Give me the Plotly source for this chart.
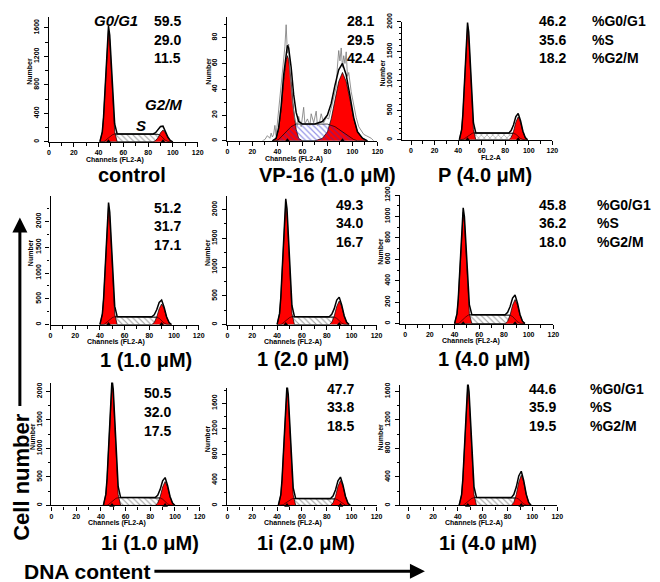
import plotly.graph_objects as go

W, H = 660, 582
FONT = "Arial, Liberation Sans, sans-serif"
PAGE_OFFSET = 8  # the page body margin shifts the figure by 8 px

# ---------------- data ----------------
SAMPLES = ["control", "VP-16 (1.0 μM)", "P (4.0 μM)",
           "1 (1.0 μM)", "1 (2.0 μM)", "1 (4.0 μM)",
           "1i (1.0 μM)", "1i (2.0 μM)", "1i (4.0 μM)"]
PHASES = ["%G0/G1", "%S", "%G2/M"]
G0G1_PCT = [59.5, 28.1, 46.2, 51.2, 49.3, 45.8, 50.5, 47.7, 44.6]
S_PCT = [29.0, 29.5, 35.6, 31.7, 34.0, 36.2, 32.0, 33.8, 35.9]
G2M_PCT = [11.5, 42.4, 18.2, 17.1, 16.7, 18.0, 17.5, 18.5, 19.5]

# fitted components on a channel grid: G0/G1 peak, S phase, G2/M peak
CONTROL_CH = [41, 43, 44, 45, 46, 47, 48, 49, 50, 51, 52, 53, 55, 70, 84, 86, 88, 90, 92, 94, 96, 98, 100]
CONTROL_G1 = [0, 140, 345, 675, 1070, 1430, 1570, 1430, 1070, 675, 345, 140, 0, 0, 0, 0, 0, 0, 0, 0, 0, 0, 0]
CONTROL_S = [0, 0, 0, 11, 28, 42, 55, 68, 83, 97, 105, 110, 110, 110, 110, 110, 105, 88, 55, 22, 5, 0, 0]
CONTROL_G2 = [0, 0, 0, 0, 0, 0, 0, 0, 0, 0, 0, 0, 0, 0, 0, 17, 59, 127, 165, 127, 59, 17, 0]

VP16_CH = [36, 39, 41, 43, 45, 47, 48, 49, 51, 53, 55, 57, 60, 70, 76, 80, 83, 86, 89, 92, 95, 98, 101, 104, 108, 112]
VP16_G1 = [0, 2, 9, 24, 46, 63, 66, 63, 46, 24, 9, 2, 0, 0, 0, 0, 0, 0, 0, 0, 0, 0, 0, 0, 0, 0]
VP16_S = [0, 0, 1, 3, 5, 7, 8, 9, 11, 12, 13, 13, 13, 13, 13, 13, 12, 11, 9, 7, 5, 3, 1, 0, 0, 0]
VP16_G2 = [0, 0, 0, 0, 0, 0, 0, 0, 0, 0, 0, 0, 0, 0, 2, 7, 17, 32, 46, 53, 46, 32, 17, 7, 2, 0]
# raw (noisy) histogram of the VP-16 sample
VP16_RAW_CH = [28, 30, 32, 34, 35, 36, 37, 38, 39, 40, 42, 44, 46, 47, 48, 49, 50, 52, 54, 56,
               57, 59, 61, 62, 64, 66, 67, 69, 71, 72, 74, 75, 77, 79, 81, 83, 85, 87, 88, 89,
               90, 91, 92, 93, 94, 95, 96, 97, 99, 101, 103, 105, 107, 109, 111, 113, 115, 117]
VP16_RAW = [0, 1, 4, 2, 6, 3, 5, 12, 4, 14, 30, 52, 73, 90, 68, 75, 52, 30, 16, 12,
            19, 11, 26, 13, 17, 12, 21, 14, 23, 12, 16, 21, 14, 18, 17, 25, 33, 42, 58, 70,
            62, 72, 57, 66, 60, 69, 50, 53, 38, 27, 18, 11, 8, 5, 4, 3, 2, 0]

P4_CH = [41, 43, 44, 45, 46, 47, 48, 49, 50, 51, 52, 53, 55, 70, 83, 85, 87, 89, 91, 93, 95, 97, 99]
P4_G1 = [0, 174, 425, 830, 1312, 1756, 1930, 1756, 1312, 830, 425, 174, 0, 0, 0, 0, 0, 0, 0, 0, 0, 0, 0]
P4_S = [0, 0, 0, 12, 29, 44, 58, 73, 88, 103, 111, 117, 117, 117, 117, 117, 111, 94, 58, 23, 6, 0, 0]
P4_G2 = [0, 0, 0, 0, 0, 0, 0, 0, 0, 0, 0, 0, 0, 0, 0, 39, 140, 300, 390, 300, 140, 39, 0]

C1_10_CH = [40, 42, 43, 44, 45, 46, 47, 48, 49, 50, 51, 52, 54, 70, 82, 84, 86, 88, 90, 92, 94, 96, 98]
C1_10_G1 = [0, 206, 504, 985, 1557, 2084, 2290, 2084, 1557, 985, 504, 206, 0, 0, 0, 0, 0, 0, 0, 0, 0, 0, 0]
C1_10_S = [0, 0, 0, 15, 38, 58, 76, 94, 114, 134, 144, 152, 152, 152, 152, 152, 144, 122, 76, 30, 8, 0, 0]
C1_10_G2 = [0, 0, 0, 0, 0, 0, 0, 0, 0, 0, 0, 0, 0, 0, 0, 40, 144, 308, 400, 308, 144, 40, 0]

C1_20_CH = [40, 42, 43, 44, 45, 46, 47, 48, 49, 50, 51, 52, 54, 70, 82, 84, 86, 88, 90, 92, 94, 96, 98]
C1_20_G1 = [0, 191, 466, 912, 1442, 1929, 2120, 1929, 1442, 912, 466, 191, 0, 0, 0, 0, 0, 0, 0, 0, 0, 0, 0]
C1_20_S = [0, 0, 0, 14, 34, 52, 68, 85, 103, 121, 130, 137, 137, 137, 137, 137, 130, 110, 68, 27, 7, 0, 0]
C1_20_G2 = [0, 0, 0, 0, 0, 0, 0, 0, 0, 0, 0, 0, 0, 0, 0, 41, 148, 316, 410, 316, 148, 41, 0]

C1_40_CH = [40, 42, 43, 44, 45, 46, 47, 48, 49, 50, 51, 52, 54, 70, 81, 83, 85, 87, 89, 91, 93, 95, 97]
C1_40_G1 = [0, 94, 229, 447, 707, 946, 1040, 946, 707, 447, 229, 94, 0, 0, 0, 0, 0, 0, 0, 0, 0, 0, 0]
C1_40_S = [0, 0, 0, 8, 21, 32, 42, 51, 62, 73, 79, 83, 83, 83, 83, 83, 79, 66, 42, 17, 4, 0, 0]
C1_40_G2 = [0, 0, 0, 0, 0, 0, 0, 0, 0, 0, 0, 0, 0, 0, 0, 23, 81, 173, 225, 173, 81, 23, 0]

C1I_10_CH = [42, 44, 45, 46, 47, 48, 49, 50, 51, 52, 53, 54, 56, 70, 84, 86, 88, 90, 92, 94, 96, 98, 100]
C1I_10_G1 = [0, 194, 473, 925, 1462, 1957, 2150, 1957, 1462, 925, 473, 194, 0, 0, 0, 0, 0, 0, 0, 0, 0, 0, 0]
C1I_10_S = [0, 0, 0, 14, 35, 52, 69, 86, 104, 121, 131, 138, 138, 138, 138, 138, 131, 110, 69, 28, 7, 0, 0]
C1I_10_G2 = [0, 0, 0, 0, 0, 0, 0, 0, 0, 0, 0, 0, 0, 0, 0, 42, 151, 323, 420, 323, 151, 42, 0]

C1I_20_CH = [41, 43, 44, 45, 46, 47, 48, 49, 50, 51, 52, 53, 55, 70, 83, 85, 87, 89, 91, 93, 95, 97, 99]
C1I_20_G1 = [0, 166, 405, 791, 1251, 1674, 1840, 1674, 1251, 791, 405, 166, 0, 0, 0, 0, 0, 0, 0, 0, 0, 0, 0]
C1I_20_S = [0, 0, 0, 11, 27, 41, 54, 67, 81, 95, 103, 108, 108, 108, 108, 108, 103, 86, 54, 22, 5, 0, 0]
C1I_20_G2 = [0, 0, 0, 0, 0, 0, 0, 0, 0, 0, 0, 0, 0, 0, 0, 39, 140, 300, 390, 300, 140, 39, 0]

C1I_40_CH = [41, 43, 44, 45, 46, 47, 48, 49, 50, 51, 52, 53, 55, 70, 83, 85, 87, 89, 91, 93, 95, 97, 99]
C1I_40_G1 = [0, 151, 370, 722, 1142, 1529, 1680, 1529, 1142, 722, 370, 151, 0, 0, 0, 0, 0, 0, 0, 0, 0, 0, 0]
C1I_40_S = [0, 0, 0, 11, 28, 42, 55, 68, 83, 97, 105, 110, 110, 110, 110, 110, 105, 88, 55, 22, 5, 0, 0]
C1I_40_G2 = [0, 0, 0, 0, 0, 0, 0, 0, 0, 0, 0, 0, 0, 0, 0, 43, 153, 327, 425, 327, 153, 43, 0]

# peak mean channels (triangle markers on the axis)
PEAK_MEANS = [[48, 92], [48, 92], [48, 91], [47, 90], [47, 90], [47, 89], [49, 92], [48, 91], [48, 91]]

COMPONENTS = [
    (CONTROL_CH, CONTROL_G1, CONTROL_S, CONTROL_G2),
    (VP16_CH, VP16_G1, VP16_S, VP16_G2),
    (P4_CH, P4_G1, P4_S, P4_G2),
    (C1_10_CH, C1_10_G1, C1_10_S, C1_10_G2),
    (C1_20_CH, C1_20_G1, C1_20_S, C1_20_G2),
    (C1_40_CH, C1_40_G1, C1_40_S, C1_40_G2),
    (C1I_10_CH, C1I_10_G1, C1I_10_S, C1I_10_G2),
    (C1I_20_CH, C1I_20_G1, C1I_20_S, C1I_20_G2),
    (C1I_40_CH, C1I_40_G1, C1I_40_S, C1I_40_G2),
]

# ---------------- layout (pixel geometry of each panel) ----------------
# x-left, x-right, x-min, y of zero line, y of top, y max, y dtick, y minor dtick
GEOM = [
    (47.5, 198, 0, 135, 8, 1752, 400, 200),
    (228, 380, 0, 134, 8, 96, 20, 10),
    (405, 557, -7.5, 133, 13, 2000, 500, 100),
    (49, 199, 0, 321, 190, 2495, 500, 250),
    (228, 379, 0, 321, 190, 2239, 500, 250),
    (403, 558, -4, 320, 189, 1202, 200, 100),
    (50, 200, 0, 505, 380, 2155, 500, 250),
    (228, 379, 0, 505, 385, 1846, 400, 200),
    (403, 562, -6.4, 505, 382, 1697, 400, 200),
]
TITLE_POS = [(131, 169), (329, 169), (489, 169), (146, 357), (305, 356), (488, 356),
             (150, 543), (308, 543), (492, 543)]
PCT_POS = [(183, 12), (378, 12), (573, 12), (183, 202), (367, 199), (573, 199),
           (173, 391), (358, 386), (563, 386)]
PHASE_X = {2: 595, 5: 600, 8: 593}


def px(x):
    return (x - PAGE_OFFSET) / W


def py(y):
    return 1 - (y - PAGE_OFFSET) / H


fig = go.Figure()
ann = []

for i, (ch, g1, s, g2) in enumerate(COMPONENTS):
    n = i + 1
    xa, ya = f"x{n}", f"y{n}"
    xl, xr, xmin, y0, ytop, ymax, ydt, ymin_dt = GEOM[i]
    total = [a + b + c for a, b, c in zip(g1, s, g2)]

    if i == 1:
        hatch = dict(shape="\\", fgcolor="#2b2bd0", bgcolor="rgba(0,0,0,0)", size=4, solidity=0.3)
    elif i == 2:
        hatch = dict(shape="x", fgcolor="#777777", bgcolor="white", size=4, solidity=0.4)
    else:
        hatch = dict(shape="\\", fgcolor="#333333", bgcolor="white", size=4, solidity=0.25)

    s_trace = go.Scatter(x=ch, y=s, mode="lines", fill="tozeroy", fillpattern=hatch,
                         fillcolor="rgba(0,0,0,0)", line=dict(color="black", width=0.7),
                         xaxis=xa, yaxis=ya, hoverinfo="skip")
    if i != 1:
        fig.add_trace(s_trace)
    for comp in (g1, g2):
        fig.add_trace(go.Scatter(x=ch, y=comp, mode="lines", fill="tozeroy", fillcolor="#ff0000",
                                 line=dict(color="black", width=0.7), xaxis=xa, yaxis=ya,
                                 hoverinfo="skip"))
    if i == 1:
        fig.add_trace(s_trace)
        fig.add_trace(go.Scatter(x=VP16_RAW_CH, y=VP16_RAW, mode="lines",
                                 line=dict(color="#777777", width=0.8), xaxis=xa, yaxis=ya))
    else:
        fig.add_trace(go.Scatter(x=ch, y=s, mode="lines", line=dict(color="black", width=0.6),
                                 xaxis=xa, yaxis=ya))
    fig.add_trace(go.Scatter(x=ch, y=total, mode="lines", line=dict(color="black", width=1.5),
                             xaxis=xa, yaxis=ya))
    fig.add_trace(go.Scatter(x=PEAK_MEANS[i], y=[0] * len(PEAK_MEANS[i]), mode="markers",
                             marker=dict(symbol="triangle-up", size=5, color="black"),
                             cliponaxis=False, xaxis=xa, yaxis=ya))

    tickfont = dict(size=7, family=FONT, color="black", weight="bold")
    fig.update_layout(**{
        f"xaxis{n}": dict(domain=[px(xl), px(xr)], range=[xmin, 120], anchor=ya,
                          showline=True, linecolor="black", linewidth=1.2,
                          ticks="outside", ticklen=4, tickwidth=1, tickcolor="black",
                          tick0=0, dtick=20, tickfont=tickfont, showgrid=False, zeroline=False,
                          minor=dict(dtick=10, tick0=0, ticks="outside", ticklen=3,
                                     tickcolor="black", showgrid=False)),
        f"yaxis{n}": dict(domain=[py(y0), py(ytop)], range=[0, ymax], anchor=xa,
                          showline=True, linecolor="black", linewidth=1.2,
                          ticks="outside", ticklen=4, tickwidth=1, tickcolor="black",
                          dtick=ydt, tickangle=-90, tickfont=tickfont, ticklabelstandoff=2,
                          showgrid=False, zeroline=False,
                          minor=dict(dtick=ymin_dt, ticks="outside", ticklen=2.5,
                                     tickcolor="black", showgrid=False)),
    })

    # axis titles
    xscale = (xr - xl) / (120 - xmin)
    xlab = "FL2-A" if i == 2 else "Channels (FL2-A)"
    xlab_ch = 68 if i == 2 else 53
    ann.append(dict(x=px(xl + (xlab_ch - xmin) * xscale), y=py(y0 + 18), text=xlab,
                    font=dict(size=7, family=FONT, color="black", weight="bold")))
    ann.append(dict(x=px(xl - 20), y=py((y0 + ytop) / 2 - 8), text="Number", textangle=-90,
                    font=dict(size=7, family=FONT, color="black", weight="bold")))

    # sample title
    tx, ty = TITLE_POS[i]
    ann.append(dict(x=px(tx), y=py(ty), text=SAMPLES[i],
                    font=dict(size=20, family=FONT, color="black", weight="bold")))

    # percentages
    rx, ry = PCT_POS[i]
    for k, val in enumerate((G0G1_PCT[i], S_PCT[i], G2M_PCT[i])):
        ann.append(dict(x=px(rx), y=py(ry + 19 * k), text=f"{val:.1f}", xanchor="right",
                        font=dict(size=14, family=FONT, color="black", weight="bold")))
        if i in PHASE_X:
            ann.append(dict(x=px(PHASE_X[i]), y=py(ry + 19 * k), text=PHASES[k], xanchor="left",
                            font=dict(size=14, family=FONT, color="black", weight="bold")))

# phase labels inside the control panel
for text, (x, y) in (("<b><i>G0/G1</i></b>", (115, 12)), ("<b><i>G2/M</i></b>", (163, 97)),
                     ("<b><i>S</i></b>", (141, 118))):
    ann.append(dict(x=px(x), y=py(y), text=text, font=dict(size=15, family=FONT, color="black")))

# global axis captions with arrows
ann.append(dict(x=px(20), y=py(476), text="Cell number", textangle=-90,
                font=dict(size=22, family=FONT, color="black", weight="bold")))
ann.append(dict(x=px(18), y=py(212), ax=0, ay=190, text="", showarrow=True, arrowhead=2,
                arrowsize=1, arrowwidth=3, arrowcolor="black"))
ann.append(dict(x=px(86), y=py(572), text="DNA content",
                font=dict(size=21, family=FONT, color="black", weight="bold")))
ann.append(dict(x=px(428), y=py(572), ax=-272, ay=0, text="", showarrow=True, arrowhead=2,
                arrowsize=1, arrowwidth=3, arrowcolor="black"))

for a in ann:
    a.setdefault("xref", "paper")
    a.setdefault("yref", "paper")
    a.setdefault("showarrow", False)
    a.setdefault("xanchor", "center")
    a.setdefault("yanchor", "middle")

fig.update_layout(width=W, height=H, margin=dict(l=0, r=0, t=0, b=0),
                  paper_bgcolor="white", plot_bgcolor="white", showlegend=False,
                  annotations=ann)

fig.write_html("out.html")
